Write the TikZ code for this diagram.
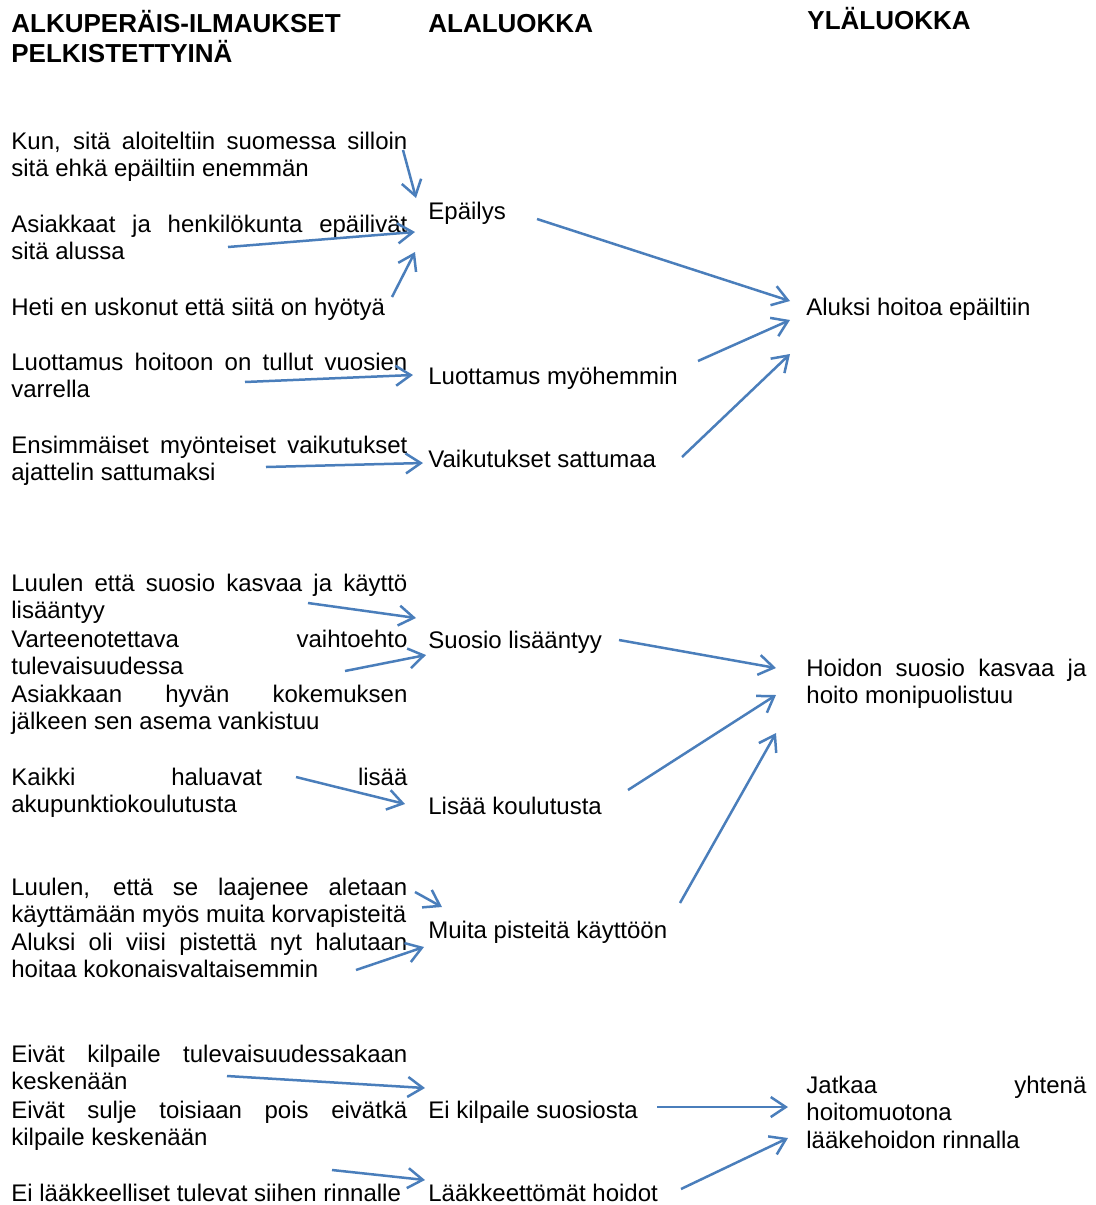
\documentclass[tikz,border=0pt]{standalone}
\usepackage{fontspec}
\setmainfont{Liberation Sans}
\usepackage{tikz}
\usetikzlibrary{arrows.meta}
\definecolor{arrowblue}{RGB}{74,126,187}
\hyphenpenalty=10000
\tolerance=10000

\begin{document}
\begin{tikzpicture}[x=0.5pt,y=-0.5pt,
    every node/.style={font=\fontsize{12}{13.8}\selectfont, inner sep=0pt, anchor=base west},
    orig/.style={text width=198pt, align=justify},
    yla/.style={text width=140pt, align=justify},
    hdr/.style={font=\fontsize{13}{14.95}\selectfont\bfseries, align=left},
    arr/.style={draw=arrowblue, line width=1.25pt, -{Straight Barb[length=7.5pt,width=10pt]}}]
  \useasboundingbox (0,0) rectangle (1096,1205);
  % otsikot
  \node[hdr] (h1) at (11,62) {ALKUPERÄIS-ILMAUKSET\\PELKISTETTYINÄ};
  \node[hdr] (h2) at (428,32) {ALALUOKKA};
  \node[hdr] (h3) at (807,29) {YLÄLUOKKA};
  % alkuperäiset ilmaukset
  \node[orig] (k1) at (11,149) {Kun, sitä aloiteltiin suomessa silloin\linebreak sitä ehkä epäiltiin enemmän};
  \node[orig] (k2) at (11,232) {Asiakkaat ja henkilökunta epäilivät\linebreak sitä alussa};
  \node[orig] (k3) at (11,315) {Heti en uskonut että siitä on hyötyä};
  \node[orig] (k4) at (11,370) {Luottamus hoitoon on tullut vuosien\linebreak varrella};
  \node[orig] (k5) at (11,453) {Ensimmäiset myönteiset vaikutukset\linebreak ajattelin sattumaksi};
  \node[orig] (k6) at (11,591) {Luulen että suosio kasvaa ja käyttö\linebreak lisääntyy};
  \node[orig] (k7) at (11,647) {Varteenotettava vaihtoehto\linebreak tulevaisuudessa};
  \node[orig] (k8) at (11,702) {Asiakkaan hyvän kokemuksen\linebreak jälkeen sen asema vankistuu};
  \node[orig] (k9) at (11,785) {Kaikki haluavat lisää\linebreak akupunktiokoulutusta};
  \node[orig] (k10) at (11,895) {Luulen, että se laajenee aletaan\linebreak käyttämään myös muita korvapisteitä};
  \node[orig] (k11) at (11,950) {Aluksi oli viisi pistettä nyt halutaan\linebreak hoitaa kokonaisvaltaisemmin};
  \node[orig] (k12) at (11,1062) {Eivät kilpaile tulevaisuudessakaan\linebreak keskenään};
  \node[orig] (k13) at (11,1118) {Eivät sulje toisiaan pois eivätkä\linebreak kilpaile keskenään};
  \node[orig] (k14) at (11,1201) {Ei lääkkeelliset tulevat siihen rinnalle};
  % alaluokat
  \node (m1) at (428,219) {Epäilys};
  \node (m2) at (428,384) {Luottamus myöhemmin};
  \node (m3) at (428,467) {Vaikutukset sattumaa};
  \node (m4) at (428,648) {Suosio lisääntyy};
  \node (m5) at (428,814) {Lisää koulutusta};
  \node (m6) at (428,938) {Muita pisteitä käyttöön};
  \node (m7) at (428,1118) {Ei kilpaile suosiosta};
  \node (m8) at (428,1201) {Lääkkeettömät hoidot};
  % yläluokat
  \node (y1) at (806,315) {Aluksi hoitoa epäiltiin};
  \node[yla] (y2) at (806,676) {Hoidon suosio kasvaa ja\linebreak hoito monipuolistuu};
  \node[yla] (y3) at (806,1093) {Jatkaa yhtenä\linebreak hoitomuotona\newline lääkehoidon rinnalla};
  % nuolet
  \draw[arr] ([shift={(392,1)}]k1.base west) -- ([shift={(-12,-21)}]m1.base west);
  \draw[arr] ([shift={(217,15)}]k2.base west) -- ([shift={(-13,13)}]m1.base west);
  \draw[arr] ([shift={(381,-18)}]k3.base west) -- ([shift={(-13,33)}]m1.base west);
  \draw[arr] ([shift={(109,0)}]m1.base west) -- ([shift={(-16,-14)}]y1.base west);
  \draw[arr] ([shift={(234,12)}]k4.base west) -- ([shift={(-15,-9)}]m2.base west);
  \draw[arr] ([shift={(270,-23)}]m2.base west) -- ([shift={(-16,5)}]y1.base west);
  \draw[arr] ([shift={(255,14)}]k5.base west) -- ([shift={(-5,-4)}]m3.base west);
  \draw[arr] ([shift={(254,-10)}]m3.base west) -- ([shift={(-16,39)}]y1.base west);
  \draw[arr] ([shift={(297,12)}]k6.base west) -- ([shift={(-12,-30)}]m4.base west);
  \draw[arr] ([shift={(334,24)}]k7.base west) -- ([shift={(-2,7)}]m4.base west);
  \draw[arr] ([shift={(191,-8)}]m4.base west) -- ([shift={(-30,-8)}]y2.base west);
  \draw[arr] ([shift={(285,-8)}]k9.base west) -- ([shift={(-23,-10)}]m5.base west);
  \draw[arr] ([shift={(200,-24)}]m5.base west) -- ([shift={(-30,19)}]y2.base west);
  \draw[arr] ([shift={(404,-3)}]k10.base west) -- ([shift={(14,-31)}]m6.base west);
  \draw[arr] ([shift={(345,20)}]k11.base west) -- ([shift={(-4,9)}]m6.base west);
  \draw[arr] ([shift={(252,-35)}]m6.base west) -- ([shift={(-30,57)}]y2.base west);
  \draw[arr] ([shift={(216,14)}]k12.base west) -- ([shift={(-3,-30)}]m7.base west);
  \draw[arr] ([shift={(229,-11)}]m7.base west) -- ([shift={(-18,14)}]y3.base west);
  \draw[arr] ([shift={(321,-31)}]k14.base west) -- ([shift={(-3,-21)}]m8.base west);
  \draw[arr] ([shift={(253,-12)}]m8.base west) -- ([shift={(-18,45)}]y3.base west);
\end{tikzpicture}
\end{document}
